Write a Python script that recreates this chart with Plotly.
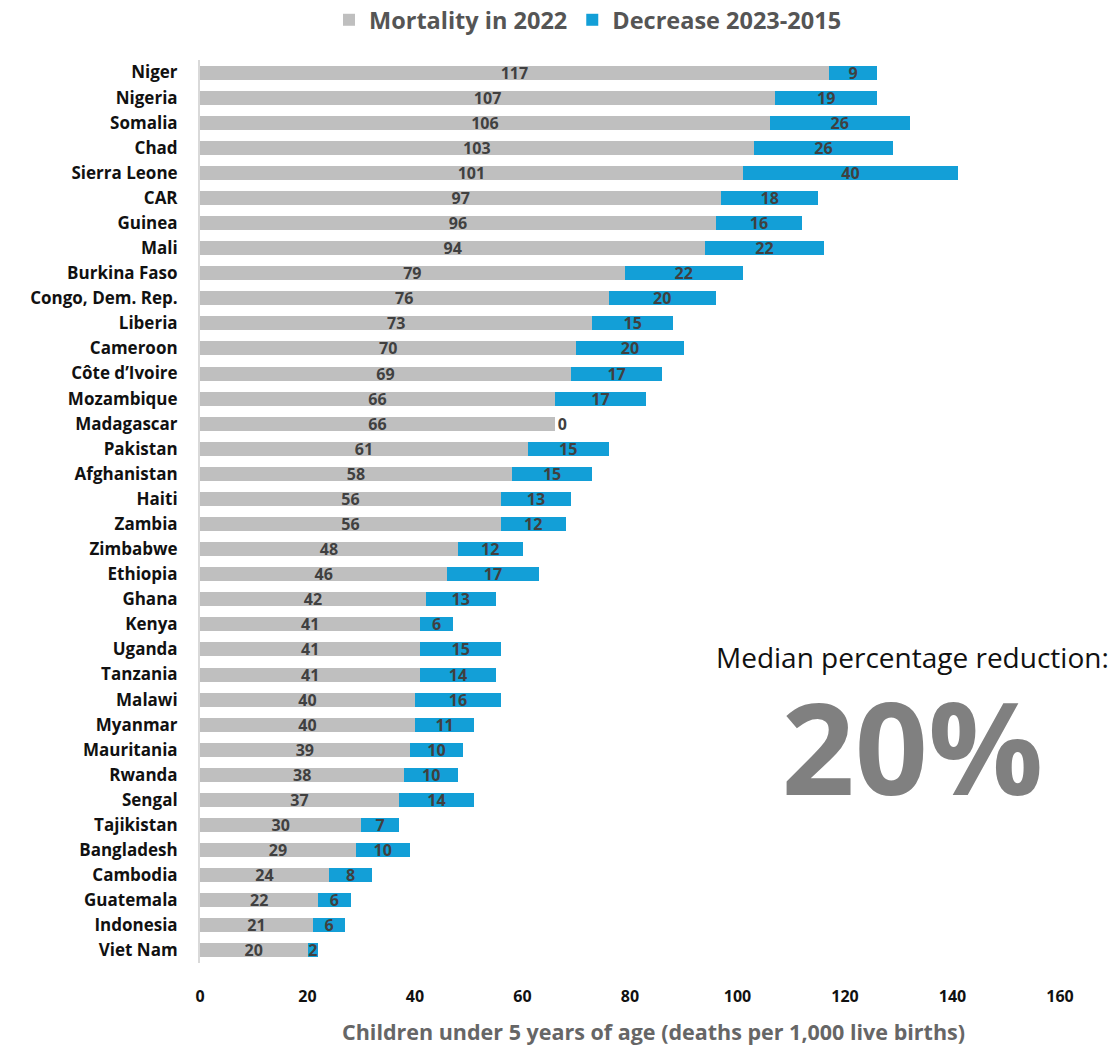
import plotly.graph_objects as go

countries = ["Niger", "Nigeria", "Somalia", "Chad", "Sierra Leone", "CAR", "Guinea", "Mali",
             "Burkina Faso", "Congo, Dem. Rep.", "Liberia", "Cameroon", "Côte d’Ivoire", "Mozambique",
             "Madagascar", "Pakistan", "Afghanistan", "Haiti", "Zambia", "Zimbabwe", "Ethiopia",
             "Ghana", "Kenya", "Uganda", "Tanzania", "Malawi", "Myanmar", "Mauritania", "Rwanda",
             "Sengal", "Tajikistan", "Bangladesh", "Cambodia", "Guatemala", "Indonesia", "Viet Nam"]
mortality_2022 = [117, 107, 106, 103, 101, 97, 96, 94, 79, 76, 73, 70, 69, 66, 66, 61, 58, 56, 56,
                  48, 46, 42, 41, 41, 41, 40, 40, 39, 38, 37, 30, 29, 24, 22, 21, 20]
decrease = [9, 19, 26, 26, 40, 18, 16, 22, 22, 20, 15, 20, 17, 17, 0, 15, 15, 13, 12, 12, 17, 13,
            6, 15, 14, 16, 11, 10, 10, 14, 7, 10, 8, 6, 6, 2]
x_ticks = [0, 20, 40, 60, 80, 100, 120, 140, 160]
median_label = "Median percentage reduction:"
median_value = "20%"

FONT = "Open Sans"
GREY = "#BFBFBF"
BLUE = "#139FD7"
LABEL = "#404040"

L, R, T, B = 200, 59, 60, 85
W, H = 1119, 1048
PW, PH = W - L - R, H - T - B

fig = go.Figure()
fig.add_trace(go.Bar(
    y=countries, x=mortality_2022, orientation="h", name="Mortality in 2022",
    marker=dict(color=GREY, line=dict(width=0)),
    text=[str(v) for v in mortality_2022], textposition="inside", insidetextanchor="middle",
    textangle=0, constraintext="none",
    textfont=dict(family=FONT, size=16, color=LABEL, weight="bold"),
    width=0.56, cliponaxis=False,
))
fig.add_trace(go.Bar(
    y=countries, x=decrease, orientation="h", name="Decrease 2023-2015",
    marker=dict(color=BLUE, line=dict(width=0)),
    text=[str(v) for v in decrease],
    textposition=["outside" if v == 0 else "inside" for v in decrease],
    insidetextanchor="middle", textangle=0, constraintext="none",
    textfont=dict(family=FONT, size=16, color=LABEL, weight="bold"),
    outsidetextfont=dict(family=FONT, size=16, color=LABEL, weight="bold"),
    width=0.56, cliponaxis=False,
))

# single annotation: small caption line + big number line (line spacing set by base font size)
big_text = (f"<span style='font-size:28px;color:#111111;font-weight:normal'>{median_label}</span>"
            f"<br><span style='font-size:128px;color:#808080;font-weight:bold'>{median_value}</span>")
fig.add_annotation(text=big_text, xref="paper", yref="paper",
                   x=(912 - L) / PW, y=1 - (735 - T) / PH, showarrow=False,
                   xanchor="center", yanchor="middle", align="center",
                   font=dict(family=FONT, size=98, color="#808080"))
fig.add_annotation(text="Children under 5 years of age (deaths per 1,000 live births)",
                   xref="paper", yref="paper",
                   x=(653 - L) / PW, y=-(1031 - (T + PH)) / PH, showarrow=False,
                   xanchor="center", yanchor="middle",
                   font=dict(family=FONT, size=21.5, color="#666666", weight="bold"))

fig.update_layout(
    width=W, height=H,
    margin=dict(l=L, r=R, t=T, b=B, autoexpand=False),
    barmode="stack", bargap=0.44,
    plot_bgcolor="white", paper_bgcolor="white",
    legend=dict(orientation="h", xref="container", x=588 / W, xanchor="center",
                yref="container", y=1 - 20 / H, yanchor="middle",
                font=dict(family=FONT, size=23.5, color="#555555", weight="bold"),
                traceorder="normal", bgcolor="rgba(0,0,0,0)"),
    xaxis=dict(range=[0, 160], tickvals=x_ticks, showgrid=False, zeroline=False, showline=False,
               ticks="", ticklabelstandoff=22, automargin=False,
               tickfont=dict(family=FONT, size=16, color="#111111", weight="bold")),
    yaxis=dict(autorange="reversed", showgrid=False, zeroline=False, showline=True,
               linecolor="#D9D9D9", linewidth=2, ticks="", ticklabelstandoff=17, automargin=False,
               tickfont=dict(family=FONT, size=17, color="#111111", weight="bold")),
)

fig.write_html("out.html")
